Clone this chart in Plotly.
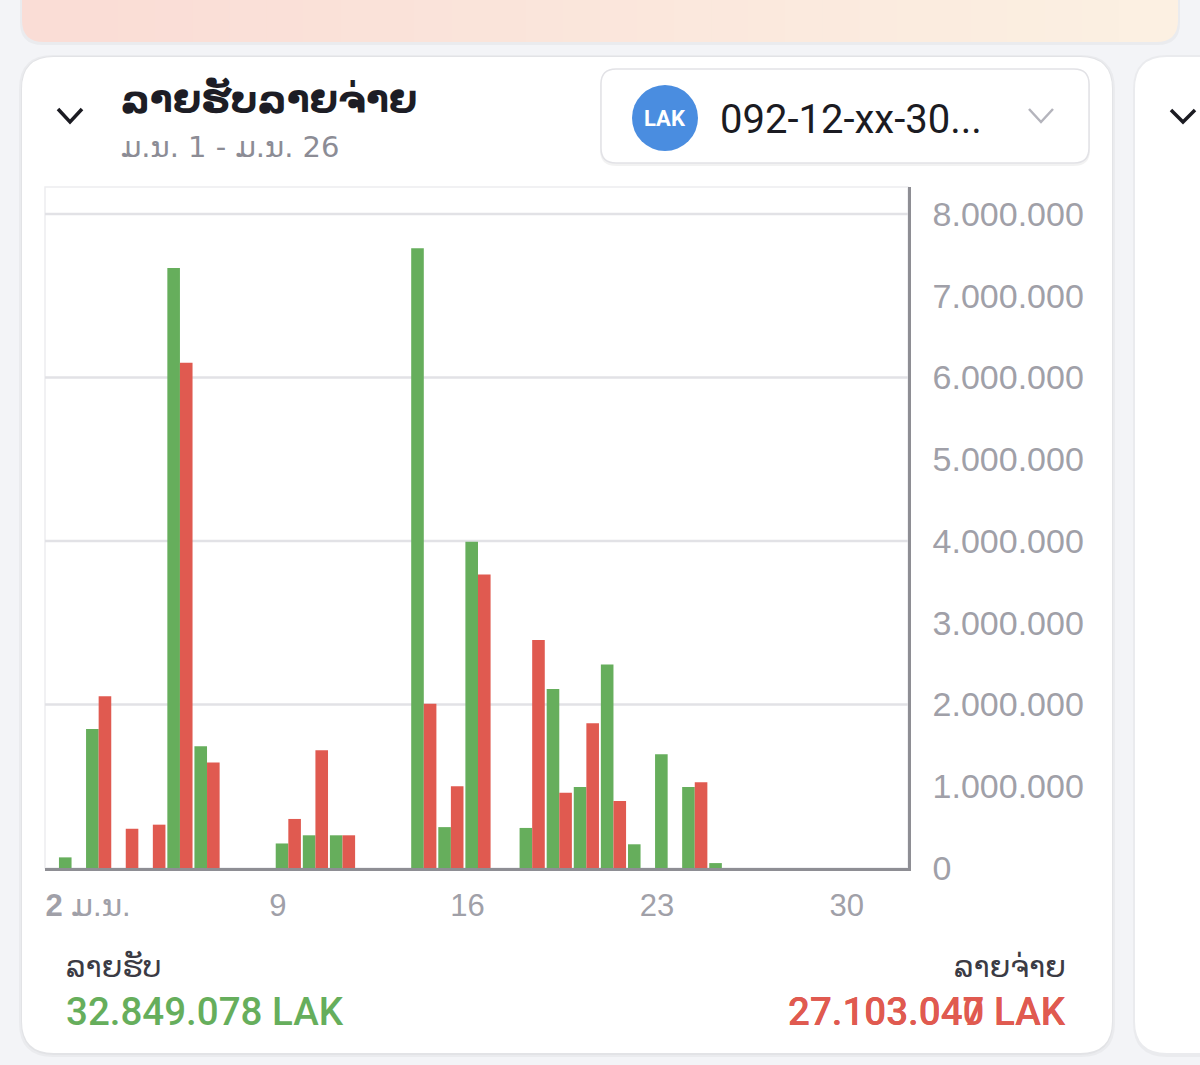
import plotly.graph_objects as go

# ---------------- data ----------------
days = list(range(1, 32))  # March (ມ.ນ.) 1..31
income = [130000, 1700000, 0, 0, 7340000, 1490000, 0, 0, 300000, 400000, 400000,
          0, 0, 7580000, 500000, 3990000, 0, 490000, 2190000, 990000, 2490000,
          290000, 1390000, 990000, 60000, 0, 0, 0, 0, 0, 0]
expense = [0, 2100000, 480000, 530000, 6180000, 1290000, 0, 0, 600000, 1440000, 400000,
           0, 0, 2010000, 1000000, 3590000, 0, 2790000, 920000, 1770000, 820000,
           0, 0, 1050000, 0, 0, 0, 0, 0, 0, 0]
x_tick_vals = [1.61, 8.61, 15.61, 22.61, 29.61]
x_tick_text = ["<b>2</b> ມ.ນ.", "9", "16", "23", "30"]
y_tick_vals = [0, 1000000, 2000000, 3000000, 4000000, 5000000, 6000000, 7000000, 8000000]
grid_vals = [2000000, 4000000, 6000000, 8000000]

title_text = "ລາຍຮັບລາຍຈ່າຍ"
subtitle_text = "ມ.ນ. 1 - ມ.ນ. 26"
account_text = "092-12-xx-30..."
currency = "LAK"
income_label = "ລາຍຮັບ"
expense_label = "ລາຍຈ່າຍ"
income_total = "32.849.078 LAK"
expense_totals = ["27.103.040 LAK", "27.103.047 LAK"]

GREEN = "#66ae5c"
RED = "#e05a50"

# ---------------- geometry helpers ----------------
W, H = 1200, 1065
PL, PR, PT, PB = 45, 908, 187, 868
PW, PH = PR - PL, PB - PT


def px(X):
    return (X - PL) / PW


def py(Y):
    return (PB - Y) / PH


def rrect(x0, y0, x1, y1, r):
    def p(X, Y):
        return f"{px(X):.5f},{py(Y):.5f}"
    return (f"M {p(x0 + r, y0)} L {p(x1 - r, y0)} Q {p(x1, y0)} {p(x1, y0 + r)} "
            f"L {p(x1, y1 - r)} Q {p(x1, y1)} {p(x1 - r, y1)} L {p(x0 + r, y1)} "
            f"Q {p(x0, y1)} {p(x0, y1 - r)} L {p(x0, y0 + r)} Q {p(x0, y0)} {p(x0 + r, y0)} Z")


def polyline(pts):
    return "M " + " L ".join(f"{px(X):.5f},{py(Y):.5f}" for X, Y in pts)


shapes = []


def add_path(path, fill=None, line_color=None, line_width=0, layer="below"):
    shapes.append(dict(type="path", path=path, xref="paper", yref="paper", layer=layer,
                       fillcolor=fill if fill else "rgba(0,0,0,0)",
                       line=dict(color=line_color if line_color else "rgba(0,0,0,0)",
                                 width=line_width)))


# top pink banner (gradient approximated with strips)
c0 = (250, 221, 214)
c1 = (252, 240, 226)
add_path(rrect(20, -40, 1180, 45, 22), fill="rgba(0,0,0,0.035)")
add_path(rrect(22, -40, 640, 42, 22), fill="rgb(%d,%d,%d)" % c0)
add_path(rrect(560, -40, 1178, 42, 22), fill="rgb(%d,%d,%d)" % c1)
n_strips = 30
x_start, x_end = 44, 1156
for i in range(n_strips):
    t = i / (n_strips - 1)
    col = tuple(int(c0[k] + (c1[k] - c0[k]) * t) for k in range(3))
    xa = x_start + (x_end - x_start) * i / n_strips
    xb = x_start + (x_end - x_start) * (i + 1) / n_strips + 1
    shapes.append(dict(type="rect", xref="paper", yref="paper", layer="below",
                       x0=px(xa), x1=px(xb), y0=py(42), y1=py(-40),
                       fillcolor="rgb(%d,%d,%d)" % col, line=dict(width=0)))

# main card + shadow
add_path(rrect(19, 55, 1115, 1057, 34), fill="rgba(0,0,0,0.035)")
add_path(rrect(21, 56, 1113, 1055, 33), fill="rgba(0,0,0,0.03)")
add_path(rrect(22, 57, 1112, 1053, 32), fill="#ffffff")
# right partial card
add_path(rrect(1133, 55, 1240, 1057, 34), fill="rgba(0,0,0,0.035)")
add_path(rrect(1135, 57, 1240, 1053, 32), fill="#ffffff")

# dropdown box
add_path(rrect(600, 70, 1090, 166, 16), fill="rgba(0,0,0,0.05)")
add_path(rrect(601, 69, 1089, 163, 15), fill="#ffffff", line_color="#e2e2e6", line_width=1.5)
shapes.append(dict(type="circle", xref="paper", yref="paper", layer="below",
                   x0=px(632), x1=px(698), y0=py(151), y1=py(85),
                   fillcolor="#4a8de0", line=dict(width=0)))

# chevrons
add_path(polyline([(58, 109), (70, 122), (82, 109)]), line_color="#1b1b22", line_width=3.5, layer="above")
add_path(polyline([(1171, 110), (1183, 122), (1195, 110)]), line_color="#1b1b22", line_width=3.5, layer="above")
add_path(polyline([(1029, 109), (1041, 122), (1053, 109)]), line_color="#b4b4bc", line_width=2.5, layer="above")

# plot frame (faint top/left border)
shapes.append(dict(type="rect", xref="paper", yref="paper", layer="below",
                   x0=0, x1=1, y0=0, y1=1, fillcolor="rgba(0,0,0,0)",
                   line=dict(color="#ededf0", width=1.5)))
# gridlines
for g in grid_vals:
    shapes.append(dict(type="line", xref="paper", yref="y", layer="below",
                       x0=0, x1=1, y0=g, y1=g, line=dict(color="#e2e2e6", width=2.5)))

# ---------------- figure ----------------
fig = go.Figure()
fig.add_trace(go.Bar(x=days, y=income, marker=dict(color=GREEN, line=dict(width=0)), name=income_label))
fig.add_trace(go.Bar(x=days, y=expense, marker=dict(color=RED, line=dict(width=0)), name=expense_label))

NUM_FONT = "Liberation Sans, DejaVu Sans, sans-serif"
LAO_FONT = "DejaVu Sans, Noto Sans, sans-serif"
TOT_FONT = "Roboto, Inter, DejaVu Sans, sans-serif"

annotations = [
    dict(x=px(119), y=py(99), text=title_text, xanchor="left", yanchor="middle", showarrow=False,
         font=dict(family=LAO_FONT, size=37.5, color="#1d1d25", weight="bold")),
    dict(x=px(119), y=py(147), text=subtitle_text, xanchor="left", yanchor="middle", showarrow=False,
         font=dict(family=LAO_FONT + ", Liberation Sans", size=29, color="#8c8c95")),
    dict(x=px(665), y=py(119), text="<b>" + currency + "</b>", xanchor="center", yanchor="middle", showarrow=False,
         font=dict(family="Roboto, Liberation Sans, sans-serif", size=22, color="#ffffff")),
    dict(x=px(718), y=py(120), text=account_text, xanchor="left", yanchor="middle", showarrow=False,
         font=dict(family=TOT_FONT, size=40, color="#1b1b22")),
    dict(x=px(64), y=py(966), text=income_label, xanchor="left", yanchor="middle", showarrow=False,
         font=dict(family=LAO_FONT, size=30, color="#3b3b44")),
    dict(x=px(1068), y=py(966), text=expense_label, xanchor="right", yanchor="middle", showarrow=False,
         font=dict(family=LAO_FONT, size=30, color="#3b3b44")),
    dict(x=px(64), y=py(1011), text=income_total, xanchor="left", yanchor="middle", showarrow=False,
         font=dict(family=TOT_FONT, size=38.5, color=GREEN, weight=500)),
]
for et in expense_totals:
    annotations.append(dict(x=px(1068), y=py(1011), text=et, xanchor="right", yanchor="middle",
                            showarrow=False, font=dict(family=TOT_FONT, size=38.5, color=RED, weight=500)))
for a in annotations:
    a["xref"] = "paper"
    a["yref"] = "paper"

fig.update_layout(
    width=W, height=H,
    margin=dict(l=PL, r=W - PR, t=PT, b=H - PB, pad=0),
    paper_bgcolor="#f3f4f7",
    plot_bgcolor="rgba(0,0,0,0)",
    barmode="group", bargap=0.07, bargroupgap=0.0,
    showlegend=False,
    separators=",.",
    shapes=shapes,
    annotations=annotations,
    xaxis=dict(range=[0.02, 31.87], tickmode="array", tickvals=x_tick_vals, ticktext=x_tick_text,
               showgrid=False, zeroline=False, showline=True, linecolor="#8e8e94", linewidth=2.5,
               ticks="outside", ticklen=8, tickcolor="rgba(0,0,0,0)",
               tickfont=dict(family=NUM_FONT, size=31, color="#a0a0a8"), fixedrange=True),
    yaxis=dict(range=[0, 8330000], side="right", tickmode="array", tickvals=y_tick_vals,
               tickformat=",d", showgrid=False, zeroline=False, showline=True,
               linecolor="#8e8e94", linewidth=2.5, ticks="outside", ticklen=15,
               tickcolor="rgba(0,0,0,0)",
               tickfont=dict(family=NUM_FONT, size=34, color="#a0a0a8"), fixedrange=True),
)

fig.write_html("out.html", config={"displayModeBar": False},
               post_script="document.body.style.margin='0px';document.body.style.overflow='hidden';")
